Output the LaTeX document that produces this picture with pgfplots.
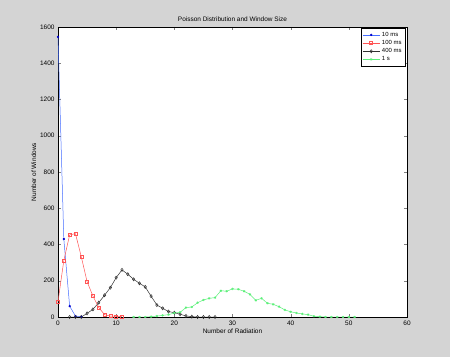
\documentclass[border=0pt]{standalone}
\usepackage{fontspec}
\setmainfont{Liberation Sans}
\usepackage{pgfplots}
\pgfplotsset{compat=1.18}
\definecolor{bg}{RGB}{212,212,212}
\definecolor{cblue}{RGB}{70,110,255}
\definecolor{cred}{RGB}{255,85,85}
\definecolor{cgray}{RGB}{50,50,50}
\definecolor{cgreen}{RGB}{90,240,120}
\begin{document}
\begin{tikzpicture}
\fill[bg] (-58bp,-40bp) rectangle (392bp,317bp);
\begin{axis}[
  at={(0,0)}, anchor=south west,
  scale only axis, width=349bp, height=290bp,
  xmin=0, xmax=60, ymin=0, ymax=1600,
  xtick={0,10,...,60}, ytick={0,200,...,1600},
  tick align=inside, major tick length=3bp,
  axis background/.style={fill=white},
  axis line style={black, line width=0.4pt},
  font=\fontsize{6.5}{8}\selectfont,
  /pgf/number format/assume math mode=true,
  /pgf/number format/1000 sep={},
  ticklabel style={font=\fontsize{6.5}{8}\selectfont},
  scaled y ticks=false,
  title={Poisson Distribution and Window Size},
  title style={yshift=-4bp},
  xlabel={Number of Radiation},
  ylabel={Number of Windows},
  xlabel style={yshift=3bp},
  ylabel style={yshift=-3bp},
  legend style={at={(0.995,0.995)}, anchor=north east, font=\fontsize{6}{7}\selectfont, draw=black, row sep=-1.5pt, inner sep=1.5pt},
  legend cell align=left,
]
\addplot[cblue, line width=0.5pt, mark=*, mark size=0.9pt, mark options={fill=blue!80!black, draw=blue!80!black}] coordinates {
(0,1545) (1,430) (2,60) (3,5) (4,2)};
\addlegendentry{10 ms}
\addplot[cred, line width=0.5pt, mark=square, mark size=1.5pt] coordinates {
(0,85) (1,311) (2,453) (3,460) (4,333) (5,195) (6,116) (7,53) (8,13) (9,5) (10,4) (11,2)};
\addlegendentry{100 ms}
\addplot[cgray, line width=0.5pt, mark=diamond, mark size=1.6pt] coordinates {
(2,0) (3,0) (4,0) (5,20) (6,42) (7,79) (8,120) (9,162) (10,217) (11,260) (12,236) (13,208) (14,186) (15,166) (16,115) (17,66) (18,48) (19,30) (20,24) (21,15) (22,6) (23,2) (24,0) (25,0) (26,0) (27,0)};
\addlegendentry{400 ms}
\addplot[cgreen, line width=0.5pt, mark=asterisk, mark size=1.2pt] coordinates {
(13,0) (14,0) (15,0) (16,2) (17,5) (18,9) (19,13) (20,22) (21,26) (22,52) (23,55) (24,79) (25,94) (26,103) (27,107) (28,145) (29,142) (30,155) (31,153) (32,142) (33,125) (34,92) (35,103) (36,76) (37,70) (38,57) (39,39) (40,29) (41,22) (42,17) (43,13) (44,4) (45,2) (46,0) (47,0) (48,0) (49,0) (50,0) (51,0)};
\addlegendentry{1 s}
\end{axis}
\end{tikzpicture}
\end{document}
